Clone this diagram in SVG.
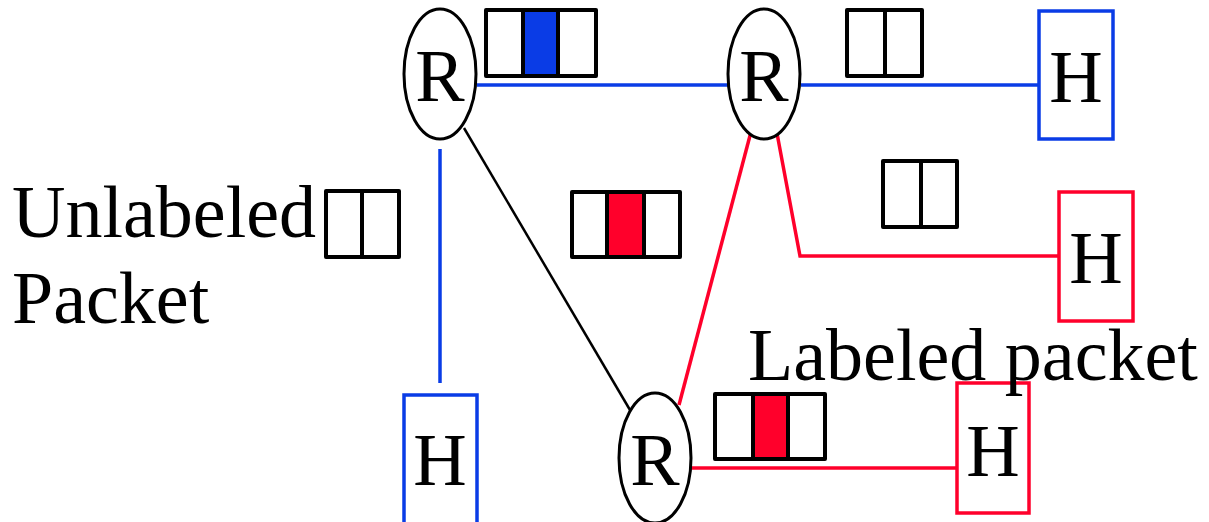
<svg xmlns="http://www.w3.org/2000/svg" width="1209" height="522" viewBox="0 0 1209 522">
<style>
.t{font-family:"Liberation Serif","Times New Roman",serif;font-size:74px;fill:#000}
.c{text-anchor:middle}
.r{fill:#fff;stroke:#000;stroke-width:3}
.pk{fill:#fff;stroke:#000;stroke-width:4;stroke-linejoin:round}
.bl{stroke:#0a3ce6;stroke-width:3.5;fill:none}
.rd{stroke:#ff002b;stroke-width:3.5;fill:none}
.bk{stroke:#000;stroke-width:2.5;fill:none}
.hb{fill:#fff;stroke:#0a3ce6;stroke-width:3.5}
.hr{fill:#fff;stroke:#ff002b;stroke-width:3.5}
</style>
<rect width="1209" height="522" fill="#fff"/>
<g id="connectors">
<line class="bl" x1="477" y1="85" x2="728" y2="85"/>
<line class="bl" x1="801" y1="85" x2="1039" y2="85"/>
<line class="bl" x1="440" y1="149" x2="440" y2="383"/>
<line class="bk" x1="464" y1="128" x2="630" y2="410"/>
<line class="rd" x1="752" y1="128" x2="679" y2="405"/>
<polyline class="rd" points="776,128 800,256 1059,256"/>
<line class="rd" x1="691" y1="468" x2="957" y2="468"/>
</g>
<g id="router1"><ellipse class="r" cx="440" cy="74" rx="36" ry="65"/><text class="t c" x="440" y="101">R</text></g>
<g id="router2"><ellipse class="r" cx="764" cy="74" rx="36" ry="65"/><text class="t c" x="764" y="101">R</text></g>
<g id="router3"><ellipse class="r" cx="655" cy="458" rx="36" ry="65"/><text class="t c" x="655" y="485">R</text></g>
<g id="host1"><rect class="hb" x="1039" y="11" width="74" height="128"/><text class="t c" x="1076" y="102">H</text></g>
<g id="host2"><rect class="hr" x="1059" y="192" width="74" height="129"/><text class="t c" x="1096" y="283">H</text></g>
<g id="host3"><rect class="hb" x="404" y="395" width="73" height="140"/><text class="t c" x="440" y="485">H</text></g>
<g id="host4"><rect class="hr" x="957" y="383" width="72" height="130"/><text class="t c" x="993" y="476">H</text></g>
<g id="packet-blue">
<rect class="pk" x="486" y="10" width="110" height="66"/>
<rect x="523" y="10" width="35" height="66" fill="#0a3ce6" stroke="#000" stroke-width="4"/>
</g>
<g id="packet-top-right">
<rect class="pk" x="847" y="10" width="75" height="66"/>
<line x1="885" y1="10" x2="885" y2="76" stroke="#000" stroke-width="4"/>
</g>
<g id="packet-mid-right">
<rect class="pk" x="883" y="161" width="74" height="66"/>
<line x1="921" y1="161" x2="921" y2="227" stroke="#000" stroke-width="4"/>
</g>
<g id="packet-left">
<rect class="pk" x="326" y="191" width="73" height="66"/>
<line x1="362" y1="191" x2="362" y2="257" stroke="#000" stroke-width="4"/>
</g>
<g id="packet-red-mid">
<rect class="pk" x="572" y="192" width="108" height="65"/>
<rect x="607" y="192" width="37" height="65" fill="#ff002b" stroke="#000" stroke-width="4"/>
</g>
<g id="packet-red-bottom">
<rect class="pk" x="715" y="394" width="110" height="65"/>
<rect x="753" y="394" width="35" height="65" fill="#ff002b" stroke="#000" stroke-width="4"/>
</g>
<g id="labels">
<text class="t" x="12" y="237">Unlabeled</text>
<text class="t" x="12" y="323">Packet</text>
<text class="t" x="748" y="380">Labeled packet</text>
</g>
</svg>
